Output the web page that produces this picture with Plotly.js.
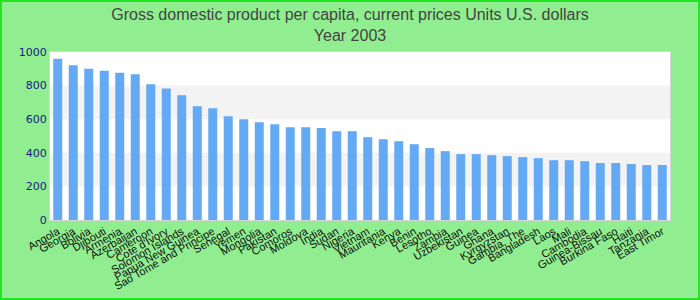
<!DOCTYPE html>
<html>
<head>
<meta charset="utf-8">
<script src="https://cdn.plot.ly/plotly-3.0.1.min.js"></script>
<style>
html,body{margin:0;padding:0;}
#wrap{position:relative;width:700px;height:300px;}
#chart{width:700px;height:300px;}
#frame{position:absolute;left:0;top:0;width:700px;height:300px;box-sizing:border-box;border:2px solid #22e622;pointer-events:none;}
</style>
</head>
<body>
<div id="wrap"><div id="chart"></div><div id="frame"></div></div>
<script>
var countries = ["Angola","Georgia","Bolivia","Djibouti","Armenia","Azerbaijan","Cameroon","Cote d'Ivory","Solomon Islands","Papua New Guinea","Sao Tome and Principe","Senegal","Yemen","Mongolia","Pakistan","Comoros","Moldova","India","Sudan","Nigeria","Vietnam","Mauritania","Kenya","Benin","Lesotho","Zambia","Uzbekistan","Guinea","Ghana","Kyrgyzstan","Gambia, The","Bangladesh","Laos","Mali","Cambodia","Guinea-Bissau","Burkina Faso","Haiti","Tanzania","East Timor"];
var gdpPerCapita = [960,921,901,889,877,867,808,782,743,677,665,618,600,582,570,552,552,547,529,529,493,481,469,451,428,410,392,392,386,380,374,368,356,356,350,339,339,333,327,327];
var yTicks = [0,200,400,600,800,1000];
var bandRanges = [[200,400],[600,800]];

var shapes = bandRanges.map(function(b){
  return {type:'rect', xref:'paper', yref:'y', x0:0, x1:1, y0:b[0], y1:b[1],
          fillcolor:'#f3f3f3', line:{width:0}, layer:'below'};
});

var trace = {
  type:'bar', x:countries, y:gdpPerCapita,
  marker:{color:'#63a9f4'}, hoverinfo:'x+y'
};

var layout = {
  width:700, height:300,
  paper_bgcolor:'#90ee90', plot_bgcolor:'#ffffff',
  margin:{l:50, r:30, t:52, b:80},
  title:{text:'Gross domestic product per capita, current prices Units U.S. dollars<br>Year 2003',
         font:{family:'Liberation Sans Narrow, Arial Narrow, Liberation Sans, sans-serif', size:16, color:'#444444'},
         x:0.5, xanchor:'center', yref:'container', y:0.933, yanchor:'middle'},
  bargap:0.42,
  showlegend:false,
  shapes:shapes,
  xaxis:{type:'category', tickangle:-30, tickfont:{family:'Liberation Sans, Arial, sans-serif', size:11, color:'#111111'},
         showgrid:false, showline:true, linecolor:'#d6d6d6', linewidth:1, mirror:true, ticks:'', automargin:false},
  yaxis:{range:[0,1000], tickvals:yTicks, showgrid:false, zeroline:false,
         tickfont:{family:'DejaVu Sans, sans-serif', size:11, color:'#1a1a80'},
         showline:true, linecolor:'#d6d6d6', linewidth:1, mirror:true, ticks:'', automargin:false}
};

Plotly.newPlot('chart',[trace],layout,{displayModeBar:false, staticPlot:true});
</script>
</body>
</html>
